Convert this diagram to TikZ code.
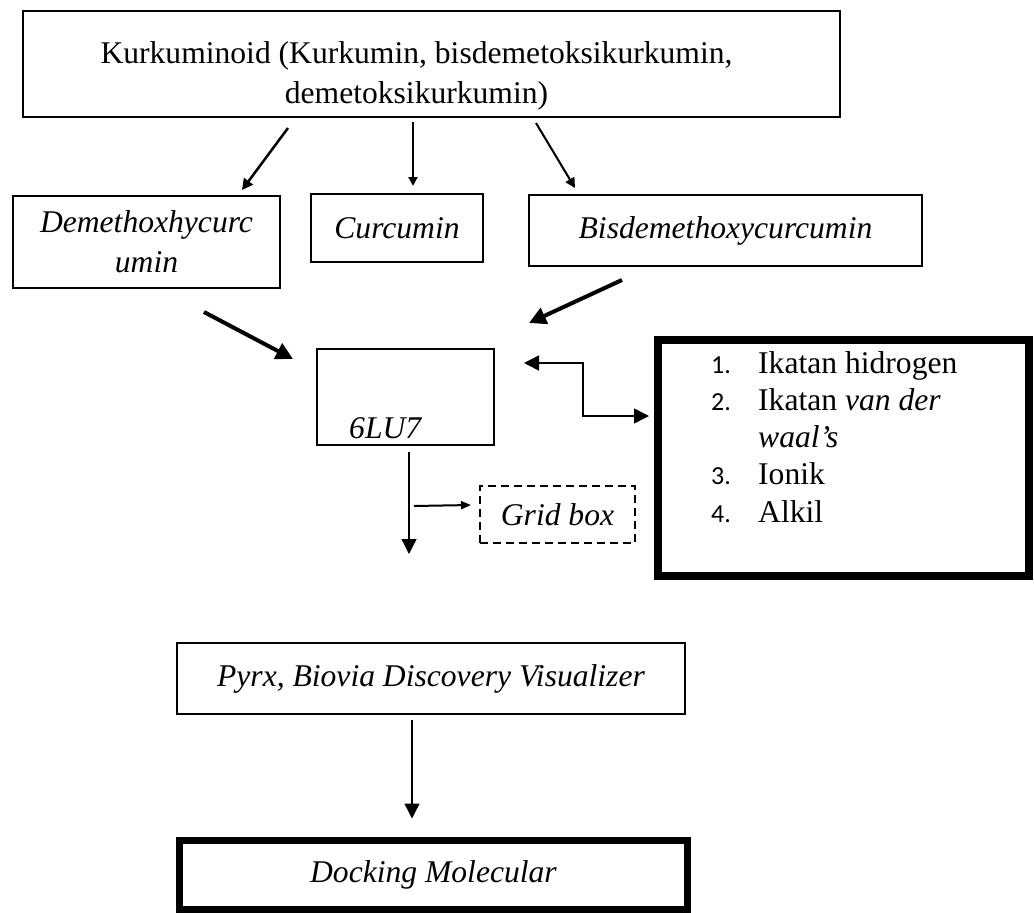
\documentclass[tikz,border=0pt]{standalone}
\usepackage{fontspec}
\setmainfont{Liberation Serif}
\newfontfamily\numfont{Carlito}
\usetikzlibrary{arrows.meta}
\newcommand{\listno}[1]{\makebox[47pt][l]{\numfont\fontsize{26}{28}\selectfont #1}}

\begin{document}
\begin{tikzpicture}[x=1pt,y=-1pt,font=\fontsize{31.6}{40}\selectfont]
                            \tikzset{flow box/.style={draw,line width=2pt,inner sep=0pt,align=center}}
                            \tikzset{heavy box/.style={draw,line width=#1,inner sep=0pt,align=center}}
                            \tikzset{flow arrow/.style={-{Triangle[length=#1,width=#1]}}}
                            \useasboundingbox (0,0) rectangle (1034,913);

                            \node [flow box,minimum width=817pt,minimum height=106pt,
                            label={[name=kurktext,align=center,inner sep=0pt,xshift=-15pt,yshift=-12pt]center:Kurkuminoid (Kurkumin, bisdemetoksikurkumin,\\ demetoksikurkumin)}] (kurk) at (431.5,64) {};
                            \node [flow box,minimum width=267pt,minimum height=92pt] (demeth) at (146.5,242) {\textit{Demethoxhycurc}\\ \textit{umin}};
                            \node [flow box,minimum width=172pt,minimum height=68pt] (curc) at (397,228) {\textit{Curcumin}};
                            \node [flow box,minimum width=393pt,minimum height=71pt] (bisdem) at (725.5,230.5) {\textit{Bisdemethoxycurcumin}};
                            \node [flow box,minimum width=177pt,minimum height=96pt,
                            label={[anchor=base west,inner sep=0pt,xshift=33pt,yshift=8pt]south west:\textit{6LU7}}] (lu) at (405.5,397) {};
                            \node [flow box,dash pattern=on 8pt off 5pt,minimum width=155pt,minimum height=57pt] (grid) at (557.5,514.5) {\textit{Grid box}};
                            \node [heavy box=8pt,minimum width=371pt,minimum height=236pt] (bonds) at (843.5,457.5) {};
                            \node [anchor=base west,inner sep=0pt,font=\fontsize{31.6}{37.25}\selectfont] (bondlist) at (711,373) {%
                            \begin{tabular}[t]{@{}l@{}l@{}}
                            \listno{1.} & Ikatan hidrogen\\
                            \listno{2.} & Ikatan \textit{van der}\\
                            & \textit{waal’s}\\
                            \listno{3.} & Ionik\\
                            \listno{4.} & Alkil
                            \end{tabular}};
                            \node [flow box,minimum width=508pt,minimum height=71pt] (pyrx) at (431,678.5) {\textit{Pyrx, Biovia Discovery Visualizer}};
                            \node [heavy box=7pt,minimum width=508pt,minimum height=69pt] (dock) at (433.5,875) {\textit{Docking Molecular}};
                            \coordinate (luend) at (409,554);

                            \draw [line width=2.5pt,flow arrow=11pt] ([shift={(266,10)}]kurk.south west) -- ([shift={(95.5,-5)}]demeth.north);
                            \draw [line width=2pt,flow arrow=9pt] ([shift={(-18.5,4)}]kurk.south) -- ([shift={(16,-7)}]curc.north);
                            \draw [line width=2pt,flow arrow=10pt] ([shift={(104.5,5)}]kurk.south) -- ([shift={(-150.5,-6)}]bisdem.north);
                            \draw [line width=4pt,flow arrow=17pt] ([shift={(-77,23)}]demeth.south east) -- ([shift={(-23,11)}]lu.north west);
                            \draw [line width=4pt,flow arrow=17pt] ([shift={(94,13)}]bisdem.south west) -- ([shift={(34,-25)}]lu.north east);
                            \draw [line width=1.5pt,{Triangle[length=15pt,width=15pt]}-{Triangle[length=15pt,width=15pt]}] ([shift={(29,15)}]lu.north east) -| ([shift={(-71,-41.5)}]bonds.west) -- ([shift={(-5,-41.5)}]bonds.west);
                            \draw [line width=1.3pt,flow arrow=15pt] ([shift={(3.5,6)}]lu.south) -- (luend);
                            \draw [line width=2pt,-{Triangle[length=10pt,width=8pt]}] ([shift={(8.5,60)}]lu.south) -- ([shift={(-8,-9.5)}]grid.west);
                            \draw [line width=1.3pt,flow arrow=15pt] ([shift={(-19,5)}]pyrx.south) -- ([shift={(-21.5,-18.5)}]dock.north);
                        \end{tikzpicture}
\end{document}
